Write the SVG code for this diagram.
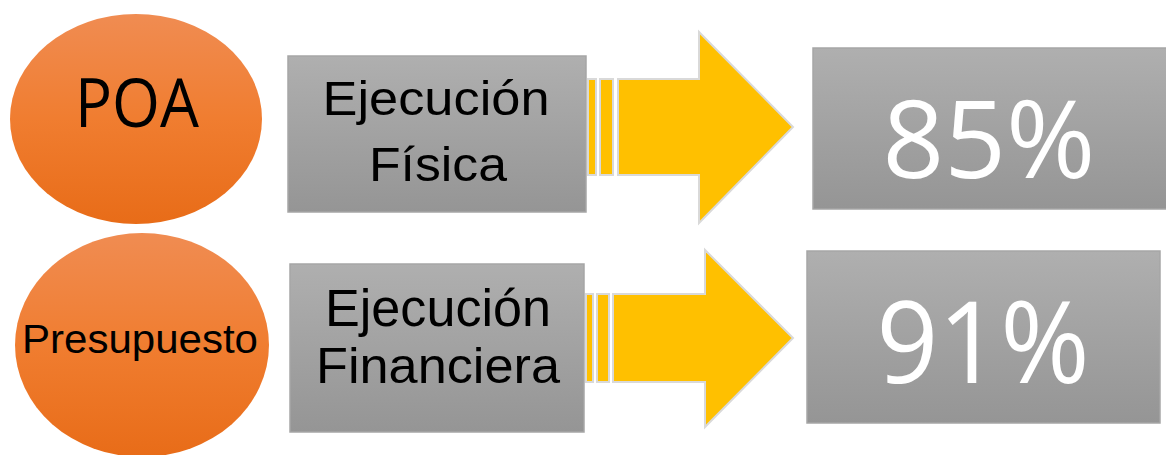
<svg xmlns="http://www.w3.org/2000/svg" width="1166" height="455" viewBox="0 0 1166 455">
<style>
.ell{fill:url(#gO)}
.box{fill:url(#gG);stroke:#a6a6a6;stroke-width:1.5}
.arr{fill:#FFC000;stroke:#d9d9d9;stroke-width:2}
.lbl{font-family:"Liberation Sans",Arial,sans-serif;fill:#000}
.pct{font-family:"Open Sans","Noto Sans",sans-serif;fill:#fff}
</style>
<defs>
<linearGradient id="gO" x1="0" y1="0" x2="0" y2="1">
<stop offset="0" stop-color="#f08c52"/>
<stop offset="0.5" stop-color="#f07d30"/>
<stop offset="1" stop-color="#e86c18"/>
</linearGradient>
<linearGradient id="gG" x1="0" y1="0" x2="0" y2="1">
<stop offset="0" stop-color="#afafaf"/>
<stop offset="1" stop-color="#959595"/>
</linearGradient>
</defs>
<g id="connectors">
<g id="arrow1">
<rect class="arr" x="588" y="79" width="8" height="96"/>
<rect class="arr" x="600" y="79" width="13" height="96"/>
<polygon class="arr" points="618,79 699,79 699,32 793,127 699,223 699,175 618,175"/>
</g>
<g id="arrow2">
<rect class="arr" x="586" y="294" width="7" height="88"/>
<rect class="arr" x="597" y="294" width="12" height="88"/>
<polygon class="arr" points="613,294 705,294 705,250 793,338 705,427 705,382 613,382"/>
</g>
</g>
<g id="poa">
<ellipse class="ell" cx="136" cy="119" rx="126" ry="105"/>
<text class="pct" x="137" y="127" font-size="67" text-anchor="middle" style="fill:#000" textLength="124" lengthAdjust="spacingAndGlyphs">POA</text>
</g>
<g id="presupuesto">
<ellipse class="ell" cx="142" cy="345" rx="127" ry="112"/>
<text class="lbl" x="140" y="353" font-size="41" text-anchor="middle" textLength="236" lengthAdjust="spacingAndGlyphs">Presupuesto</text>
</g>
<g id="fisica">
<rect class="box" x="288" y="56" width="298" height="156"/>
<text class="lbl" x="436" y="115" font-size="49" text-anchor="middle" textLength="227" lengthAdjust="spacingAndGlyphs">Ejecución</text>
<text class="lbl" x="438" y="181" font-size="49" text-anchor="middle" textLength="138" lengthAdjust="spacingAndGlyphs">Física</text>
</g>
<g id="financiera">
<rect class="box" x="290" y="264" width="294" height="168"/>
<text class="lbl" x="438" y="326" font-size="51" text-anchor="middle" textLength="226" lengthAdjust="spacingAndGlyphs">Ejecución</text>
<text class="lbl" x="438" y="383" font-size="50" text-anchor="middle" textLength="244" lengthAdjust="spacingAndGlyphs">Financiera</text>
</g>
<g id="pct85">
<rect class="box" x="813" y="48" width="355" height="161"/>
<text class="pct" x="989" y="178" font-size="108" text-anchor="middle" textLength="213" lengthAdjust="spacingAndGlyphs">85%</text>
</g>
<g id="pct91">
<rect class="box" x="807" y="251" width="353" height="172"/>
<text class="pct" x="983" y="383" font-size="113" text-anchor="middle" textLength="213" lengthAdjust="spacingAndGlyphs">91%</text>
</g>
</svg>
